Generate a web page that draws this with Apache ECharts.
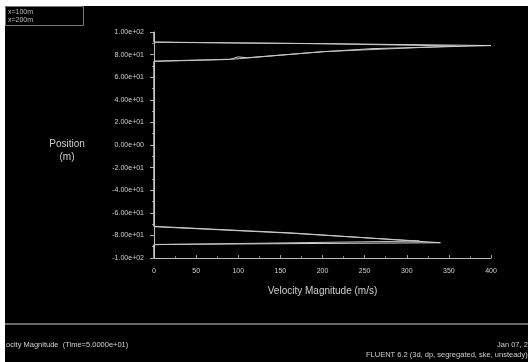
<!DOCTYPE html>
<html><head><meta charset="utf-8">
<script src="https://cdn.jsdelivr.net/npm/echarts@6/dist/echarts.min.js"></script>
<style>html,body{margin:0;padding:0;background:#fff;}#c{width:528px;height:362px;}</style>
</head><body><div id="c"></div>
<script>
// Series data: [velocity (m/s), position (m)]
const seriesNames = ['x=100m', 'x=200m'];
const series1 = [[0,-100],[0,-88],[340,-86.5],[163,-77.8],[0,-72],[0,74],[90,75.7],[100,78],[110,77.2],[200,82.5],[260,85.3],[400,88],[200,89.7],[30,90.7],[0,91],[0,100]];
const series2 = [[0,-100],[0,-88.2],[315,-85],[160,-78],[0,-72.3],[0,74.2],[95,76],[200,82.6],[358,87.6],[200,89.6],[0,91.1],[0,100]];
const xTicks = [0,50,100,150,200,250,300,350,400];
const yTicks = [-100,-80,-60,-40,-20,0,20,40,60,80,100];
const bottomLeftText = 'ocity Magnitude  (Time=5.0000e+01)';
const bottomRightDate = 'Jan 07, 2005';
const bottomRightInfo = 'FLUENT 6.2 (3d, dp, segregated, ske, unsteady)';

function fmtExp(v){
  if (v === 0) return '0.00e+00';
  const s = Math.abs(v).toExponential(2).split('e');
  const e = parseInt(s[1],10);
  const es = (e<0?'-':'+') + String(Math.abs(e)).padStart(2,'0');
  return (v<0?'-':'') + s[0] + 'e' + es;
}
const FONT = 'Liberation Sans, Arial, sans-serif';
const chart = echarts.init(document.getElementById('c'));
chart.setOption({
  backgroundColor: '#000',
  animation: false,
  grid: {left: 154, right: 37, top: 32, bottom: 104, containLabel: false},
  xAxis: {
    type: 'value', min: xTicks[0], max: xTicks[xTicks.length-1], interval: 50,
    name: 'Velocity Magnitude (m/s)', nameLocation: 'middle', nameGap: 28,
    nameTextStyle: {color: '#cfcfcf', fontSize: 10, fontFamily: FONT},
    axisLine: {onZero: false, lineStyle: {color: '#bbb', width: 1}},
    axisTick: {show: true, inside: true, length: 3, lineStyle: {color: '#999'}},
    minorTick: {show: true, splitNumber: 2, length: 2, lineStyle: {color: '#777'}},
    axisLabel: {color: '#cfcfcf', fontSize: 7, fontFamily: FONT, margin: 10},
    splitLine: {show: false}
  },
  yAxis: {
    type: 'value', min: yTicks[0], max: yTicks[yTicks.length-1], interval: 20,
    axisLine: {show: true, onZero: false, lineStyle: {color: '#bbb', width: 1}},
    axisTick: {show: true, length: 4, lineStyle: {color: '#aaa'}},
    minorTick: {show: true, splitNumber: 2, length: 2, lineStyle: {color: '#888'}},
    axisLabel: {color: '#cfcfcf', fontSize: 7, fontFamily: FONT, margin: 10, formatter: fmtExp},
    splitLine: {show: false}
  },
  series: [
    {name: seriesNames[0], type: 'line', data: series1, symbol: 'none', lineStyle: {color: '#d8d8d8', width: 1}},
    {name: seriesNames[1], type: 'line', data: series2, symbol: 'none', lineStyle: {color: '#c4c4c4', width: 1}}
  ],
  graphic: [
    {type: 'rect', shape: {x: 0, y: 0, width: 528, height: 6}, style: {fill: '#fff'}, z: 100},
    {type: 'rect', shape: {x: 0, y: 0, width: 5, height: 362}, style: {fill: '#fff'}, z: 100},
    {type: 'rect', shape: {x: 5.5, y: 6.5, width: 78, height: 19}, style: {fill: 'none', stroke: '#777', lineWidth: 1}, z: 50},
    {type: 'text', x: 8, y: 12, style: {text: seriesNames[0], fill: '#bbb', font: '7px ' + FONT, textVerticalAlign: 'middle'}, z: 60},
    {type: 'text', x: 8, y: 20, style: {text: seriesNames[1], fill: '#bbb', font: '7px ' + FONT, textVerticalAlign: 'middle'}, z: 60},
    {type: 'text', x: 67, y: 144, style: {text: 'Position', fill: '#cfcfcf', font: '10px ' + FONT, textAlign: 'center', textVerticalAlign: 'middle'}},
    {type: 'text', x: 67, y: 157, style: {text: '(m)', fill: '#cfcfcf', font: '10px ' + FONT, textAlign: 'center', textVerticalAlign: 'middle'}},
    {type: 'line', shape: {x1: 5, y1: 324, x2: 528, y2: 324}, style: {stroke: '#8a8a8a', lineWidth: 1.5}},
    {type: 'text', x: 6, y: 345, style: {text: bottomLeftText, fill: '#cfcfcf', font: '7.5px ' + FONT, textVerticalAlign: 'middle'}},
    {type: 'text', x: 497, y: 345, style: {text: bottomRightDate, fill: '#cfcfcf', font: '7.5px ' + FONT, textVerticalAlign: 'middle'}},
    {type: 'text', x: 366, y: 355, style: {text: bottomRightInfo, fill: '#cfcfcf', font: '7.5px ' + FONT, textVerticalAlign: 'middle'}}
  ]
});
</script></body></html>
